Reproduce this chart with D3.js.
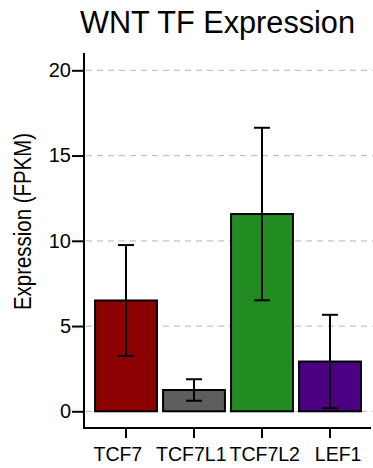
<!DOCTYPE html>
<html><head><meta charset="utf-8">
<script src="https://cdn.jsdelivr.net/npm/d3@7"></script>
<style>body{margin:0;background:#fff}svg{display:block}text{font-family:"Liberation Sans",Arial,sans-serif;fill:#000}</style>
</head><body><svg id="c" width="373" height="468"></svg>
<script>
const categories = ["TCF7","TCF7L1","TCF7L2","LEF1"];
const means = [6.5, 1.25, 11.57, 2.92];
const errors = [3.25, 0.63, 5.06, 2.74];
const colors = ["#8B0000","#5e5e5e","#228B22","#4B0082"];
const yTicks = [0,5,10,15,20];

const svg = d3.select("#c");
const y = d3.scaleLinear().domain([0,20]).range([411.3,70.3]);
const x = d3.scaleBand().domain(categories).range([92,364]).paddingInner(0.09).paddingOuter(0.045);

// grid
svg.append("g").selectAll("line").data(yTicks).join("line")
  .attr("x1",86).attr("x2",373).attr("y1",d=>y(d)).attr("y2",d=>y(d))
  .attr("stroke","#c4c4c4").attr("stroke-width",1.3).attr("stroke-dasharray","6,5");

// bars
svg.append("g").selectAll("rect").data(categories).join("rect")
  .attr("x",d=>x(d)).attr("width",x.bandwidth())
  .attr("y",(d,i)=>y(means[i])).attr("height",(d,i)=>y(0)-y(means[i]))
  .attr("fill",(d,i)=>colors[i]).attr("stroke","#000").attr("stroke-width",2);

// error bars
const eb = svg.append("g").attr("stroke","#000").attr("stroke-width",2);
categories.forEach((c,i)=>{
  const cx = x(c)+x.bandwidth()/2;
  const hi = y(means[i]+errors[i]), lo = y(means[i]-errors[i]);
  eb.append("line").attr("x1",cx).attr("x2",cx).attr("y1",hi).attr("y2",lo);
  eb.append("line").attr("x1",cx-8).attr("x2",cx+8).attr("y1",hi).attr("y2",hi);
  eb.append("line").attr("x1",cx-8).attr("x2",cx+8).attr("y1",lo).attr("y2",lo);
});

// y axis
const ya = svg.append("g").attr("transform","translate(84,0)")
  .call(d3.axisLeft(y).tickValues(yTicks).tickSize(12).tickPadding(1));
ya.select(".domain").remove();
ya.selectAll(".tick line").attr("stroke-width",2);
ya.selectAll(".tick text").attr("font-size",20).attr("font-family","Liberation Sans, Arial, sans-serif");
svg.append("line").attr("x1",84).attr("x2",84).attr("y1",53).attr("y2",429).attr("stroke","#000").attr("stroke-width",2);

// x axis
const xa = svg.append("g").attr("transform","translate(0,428)")
  .call(d3.axisBottom(x).tickSize(10).tickPadding(9));
xa.select(".domain").remove();
xa.selectAll(".tick line").attr("stroke-width",2);
const midX = (x.range()[0]+x.range()[1])/2;
xa.selectAll(".tick text").attr("font-size",19.5).attr("font-family","Liberation Sans, Arial, sans-serif")
  .attr("x", d => { const c = x(d)+x.bandwidth()/2; return (c-midX)*0.08; });
svg.append("line").attr("x1",83).attr("x2",371).attr("y1",428).attr("y2",428).attr("stroke","#000").attr("stroke-width",2);

// title
svg.append("text").attr("x",217.5).attr("y",33).attr("text-anchor","middle").attr("font-size",31)
  .attr("textLength",275).attr("lengthAdjust","spacingAndGlyphs").text("WNT TF Expression");
// y label
svg.append("text").attr("transform","translate(31,221.5) rotate(-90)").attr("text-anchor","middle").attr("font-size",23.5)
  .attr("textLength",177).attr("lengthAdjust","spacingAndGlyphs").text("Expression (FPKM)");
</script></body></html>
